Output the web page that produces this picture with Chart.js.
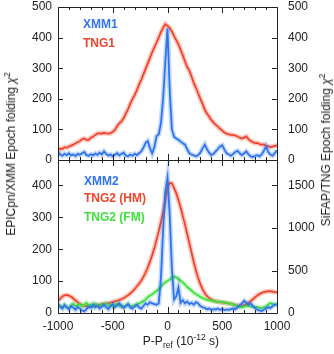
<!DOCTYPE html>
<html>
<head>
<meta charset="utf-8">
<script src="https://cdn.jsdelivr.net/npm/chart.js@4.4.0/dist/chart.umd.min.js"></script>
<style>
  body { margin: 0; width: 334px; height: 354px; position: relative; background: #fff; overflow: hidden; font-family: "Liberation Sans", Arial, sans-serif; }
  canvas { position: absolute; left: 0; }
  .lab { position: absolute; font-size: 12px; font-weight: bold; line-height: 14px; white-space: nowrap; }
  .ttl { position: absolute; font-size: 12px; color: #222; white-space: nowrap; transform: translate(-50%, -50%) rotate(-90deg); }
  .xt { position: absolute; font-size: 12px; color: #222; white-space: nowrap; transform: translate(-50%, -50%); }
  sup, sub { font-size: 8.5px; line-height: 0; }
</style>
</head>
<body>
<canvas id="topChart" width="334" height="172" style="top:0"></canvas>
<canvas id="botChart" width="334" height="204" style="top:150px"></canvas>

<div class="lab" style="left:83px;top:17px;color:#2f74ee">XMM1</div>
<div class="lab" style="left:83px;top:36px;color:#f2432b">TNG1</div>
<div class="lab" style="left:84px;top:174px;color:#2f74ee">XMM2</div>
<div class="lab" style="left:84px;top:191px;color:#f2432b">TNG2 (HM)</div>
<div class="lab" style="left:84px;top:210px;color:#3ee23a">TNG2 (FM)</div>

<div class="ttl" style="left:11px;top:154px">EPICpn/XMM Epoch folding <i>χ</i><sup>2</sup></div>
<div class="ttl" style="left:326px;top:150px">SiFAP/TNG Epoch folding <i>χ</i><sup>2</sup></div>
<div class="xt" style="left:181px;top:341px">P-P<sub>ref</sub> (10<sup>-12</sup> s)</div>

<script>
// period offsets (10^-12 s)
const xs = [
  -1000, -980, -960, -940, -920, -900, -880, -860, -840, -820,
  -800, -780, -760, -740, -720, -700, -680, -660, -640, -620,
  -600, -580, -560, -540, -520, -500, -480, -460, -440, -420,
  -400, -380, -360, -340, -320, -300, -280, -260, -240, -220,
  -200, -180, -160, -140, -120, -100, -80, -60, -40, -20,
  0, 20, 40, 60, 80, 100, 120, 140, 160, 180,
  200, 220, 240, 260, 280, 300, 320, 340, 360, 380,
  400, 420, 440, 460, 480, 500, 520, 540, 560, 580,
  600, 620, 640, 660, 680, 700, 720, 740, 760, 780,
  800, 820, 840, 860, 880, 900, 920, 940, 960, 980,
  1000
];

// tick positions
const xTicks = [-1000, -900, -800, -700, -600, -500, -400, -300, -200, -100, 0,
  100, 200, 300, 400, 500, 600, 700, 800, 900, 1000];
const yTopTicks = [0, 100, 200, 300, 400, 500];
const yBotLeftTicks = [0, 100, 200, 300, 400];
const yBotRightTicks = [0, 500, 1000, 1500];

// top panel
const xmm1 = [
  28, 18, 14, 20, 16, 22, 15, 18, 13, 20,
  17, 22, 26, 16, 14, 19, 15, 21, 17, 24,
  18, 28, 20, 15, 18, 12, 17, 22, 15, 20,
  24, 14, 12, 18, 14, 20, 16, 22, 28, 40,
  56, 62, 38, 22, 42, 78, 84, 120, 200, 320,
  430, 230, 100, 76, 70, 66, 60, 55, 50, 35,
  22, 18, 15, 12, 16, 24, 38, 50, 36, 24,
  16, 20, 28, 36, 44, 48, 34, 22, 18, 14,
  20, 26, 30, 22, 16, 22, 28, 18, 12, 10,
  14, 16, 12, 18, 30, 44, 26, 18, 14, 22,
  32
];
const tng1 = [
  34, 37, 36, 42, 40, 44, 47, 50, 55, 58,
  62, 68, 70, 66, 66, 73, 76, 82, 86, 88,
  86, 89, 87, 86, 88, 92, 98, 110, 120, 126,
  137, 152, 166, 184, 199, 212, 228, 246, 262, 280,
  298, 316, 334, 352, 368, 384, 400, 418, 432, 444,
  438, 432, 420, 405, 392, 378, 360, 342, 322, 304,
  292, 272, 252, 236, 218, 200, 184, 165, 152, 142,
  131, 122, 115, 109, 102, 96, 90, 86, 84, 82,
  82, 80, 77, 73, 70, 73, 77, 68, 62, 58,
  55, 56, 52, 50, 51, 46, 45, 42, 44, 46,
  48
];

// bottom panel
const xmm2 = [
  27, 20, 14, 24, 18, 12, 22, 16, 10, 18,
  14, 8, 5, 12, 20, 16, 26, 18, 22, 14,
  20, 26, 18, 12, 22, 28, 18, 24, 30, 20,
  16, 22, 28, 18, 14, 20, 26, 18, 14, 22,
  30, 26, 34, 30, 28, 26, 30, 110, 260, 380,
  425, 310, 140, 42, 52, 80, 32, 40, 30, 36,
  28, 32, 26, 34, 30, 22, 18, 16, 12, 14,
  10, 12, 11, 14, 10, 12, 9, 11, 10, 12,
  14, 12, 18, 24, 30, 38, 32, 26, 30, 22,
  16, 10, 8, 6, 10, 14, 18, 16, 22, 26,
  28
];
const tng2hm = [
  140, 170, 195, 208, 212, 205, 190, 170, 150, 125,
  105, 92, 84, 80, 82, 85, 88, 92, 95, 98,
  102, 106, 110, 116, 122, 128, 136, 144, 152, 162,
  176, 192, 210, 230, 255, 282, 312, 345, 380, 425,
  475, 535, 605, 680, 760, 860, 960, 1070, 1190, 1320,
  1480, 1530, 1525, 1470, 1410, 1330, 1240, 1140, 1040, 930,
  820, 710, 600, 500, 410, 340, 280, 235, 200, 175,
  158, 145, 138, 132, 128, 124, 120, 116, 112, 108,
  102, 94, 86, 82, 84, 92, 104, 120, 140, 162,
  185, 205, 222, 236, 246, 252, 256, 256, 252, 246,
  240
];
const tng2fm = [
  100, 80, 70, 95, 65, 60, 85, 110, 75, 90,
  105, 80, 95, 120, 90, 100, 75, 110, 95, 80,
  105, 90, 115, 85, 100, 75, 95, 110, 80, 92,
  70, 88, 100, 78, 84, 92, 100, 112, 125, 140,
  160, 185, 205, 220, 240, 262, 280, 310, 340, 360,
  378, 395, 415, 430, 420, 400, 380, 360, 335, 305,
  285, 262, 240, 220, 205, 190, 175, 165, 155, 150,
  145, 140, 136, 134, 130, 128, 124, 118, 112, 106,
  98, 90, 82, 72, 68, 74, 80, 86, 78, 70,
  64, 70, 62, 58, 66, 74, 100, 118, 108, 96,
  104
];

const BLUE = '#2f74ee', RED = '#f2432b', GREEN = '#3ee23a';

Chart.defaults.font.family = '"Liberation Sans", Arial, sans-serif';
Chart.defaults.font.size = 12;
Chart.defaults.color = '#222';

function pts(arr) {
  return xs.map((x, i) => ({ x: x, y: arr[i] }));
}

// line + light halo standing in for the error bars
function series(arr, color, axis) {
  return [
    { data: pts(arr), yAxisID: axis, borderColor: color, borderWidth: 1.8, pointRadius: 0, tension: 0 },
    { data: pts(arr), yAxisID: axis, borderColor: color + '48', borderWidth: 5, pointRadius: 0, tension: 0 }
  ];
}

// gnuplot-like frame with inward ticks
const frame = {
  id: 'frame',
  afterDraw(chart) {
    const a = chart.chartArea, c = chart.ctx;
    c.save();
    c.strokeStyle = '#222';
    c.lineWidth = 1;
    c.beginPath();
    c.rect(Math.round(a.left) + 0.5, Math.round(a.top) + 0.5, Math.round(a.right - a.left), Math.round(a.bottom - a.top));
    const sx = chart.scales.x;
    sx.ticks.forEach(t => {
      const p = Math.round(sx.getPixelForValue(t.value)) + 0.5;
      const len = t.value % 500 === 0 ? 6 : 3;
      c.moveTo(p, a.bottom); c.lineTo(p, a.bottom - len);
      c.moveTo(p, a.top); c.lineTo(p, a.top + len);
    });
    const yl = chart.scales.yL, yr = chart.scales.yR;
    yl.ticks.forEach(t => {
      const p = Math.round(yl.getPixelForValue(t.value)) + 0.5;
      c.moveTo(a.left, p); c.lineTo(a.left + 5, p);
    });
    yr.ticks.forEach(t => {
      const p = Math.round(yr.getPixelForValue(t.value)) + 0.5;
      c.moveTo(a.right, p); c.lineTo(a.right - 5, p);
    });
    c.stroke();
    c.restore();
  }
};

function xScale(showLabels, h) {
  return {
    type: 'linear', min: -1000, max: 1000,
    grid: { display: false, drawTicks: false },
    border: { display: false },
    ticks: {
      display: showLabels, autoSkip: false, maxRotation: 0, padding: 6,
      callback: v => (v % 500 === 0 ? String(v) : '')
    },
    afterBuildTicks: s => { s.ticks = xTicks.map(v => ({ value: v })); },
    afterFit: s => { s.height = h; s.paddingLeft = 0; s.paddingRight = 0; }
  };
}

function yScale(pos, max, tickVals, width, pad) {
  return {
    type: 'linear', position: pos, min: 0, max: max,
    grid: { display: false, drawTicks: false },
    border: { display: false },
    ticks: { padding: pad, autoSkip: false, callback: v => String(v) },
    afterBuildTicks: s => { s.ticks = tickVals.map(v => ({ value: v })); },
    // labels may hang over the plot edge, like gnuplot's
    afterFit: s => { s.width = width; s.paddingTop = 0; s.paddingBottom = 0; }
  };
}

new Chart(document.getElementById('topChart'), {
  type: 'line',
  data: { datasets: [...series(xmm1, BLUE, 'yL'), ...series(tng1, RED, 'yR')] },
  options: {
    responsive: false, animation: false, devicePixelRatio: 1,
    layout: { padding: { top: 7, left: 0, right: 0, bottom: 0 } },
    plugins: { legend: { display: false }, tooltip: { enabled: false } },
    scales: {
      x: xScale(false, 12),
      yL: yScale('left', 500, yTopTicks, 58, 6),
      yR: yScale('right', 500, yTopTicks, 57, 11)
    }
  },
  plugins: [frame]
});

new Chart(document.getElementById('botChart'), {
  type: 'line',
  data: { datasets: [...series(xmm2, BLUE, 'yL'), ...series(tng2fm, GREEN, 'yR'), ...series(tng2hm, RED, 'yR')] },
  options: {
    responsive: false, animation: false, devicePixelRatio: 1,
    layout: { padding: { top: 10, left: 0, right: 0, bottom: 0 } },
    plugins: { legend: { display: false }, tooltip: { enabled: false } },
    scales: {
      x: xScale(true, 41),
      yL: yScale('left', 480, yBotLeftTicks, 58, 6),
      yR: yScale('right', 1800, yBotRightTicks, 57, 11)
    }
  },
  plugins: [frame]
});
</script>
</body>
</html>
